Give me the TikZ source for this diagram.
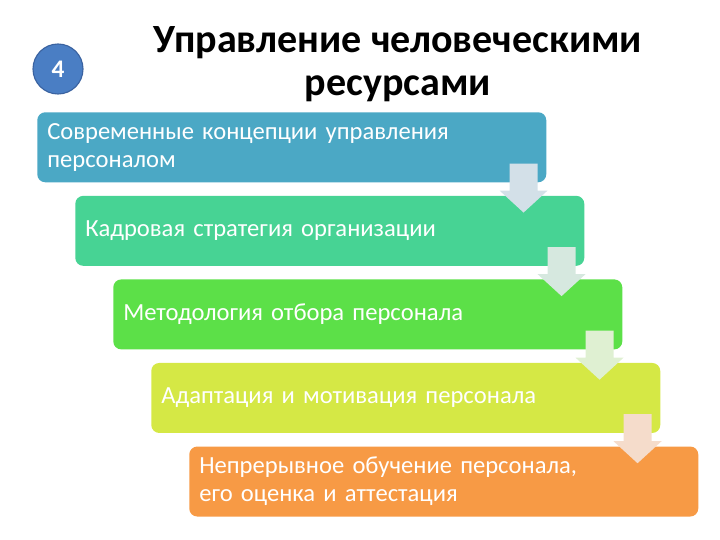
\documentclass[tikz,border=0pt]{standalone}
\usepackage{fontspec}
\setmainfont{Carlito}
\usetikzlibrary{positioning, calc}

\definecolor{stageA}{HTML}{4BA8C5}
\definecolor{stageB}{HTML}{47D394}
\definecolor{stageC}{HTML}{5CE048}
\definecolor{stageD}{HTML}{D5E845}
\definecolor{stageE}{HTML}{F79A45}
\definecolor{arrA}{HTML}{D3E0E8}
\definecolor{arrB}{HTML}{D6E8DF}
\definecolor{arrC}{HTML}{DFF0D2}
\definecolor{arrD}{HTML}{F5DCCB}
\definecolor{dotblue}{HTML}{4A7EC4}
\definecolor{dotrim}{HTML}{3A62A0}

\tikzset{
    stage/.style={rectangle, rounded corners=0.2cm, text=white, align=left,
        text width=12.225cm, inner xsep=0.25cm, minimum height=1.75cm,
        font=\fontsize{17.5}{20}\selectfont},
    numdot/.style={circle, draw=dotrim, line width=0.8pt, fill=dotblue, text=white,
        minimum size=1.25cm, font=\bfseries\fontsize{18}{20}\selectfont}
}

\begin{document}
\begin{tikzpicture}
    \useasboundingbox (0,0) rectangle (18,13.5);
    \node[numdot] (num) at (1.45,11.775) {4};
    \node[font=\bfseries\fontsize{28.5}{31}\selectfont, align=center] (title) at (9.95,11.9) {Управление человеческими\\ресурсами};
    \node[stage, fill=stageA, anchor=north west] (s1) at (0.925,10.7) {Современные концепции управления\\персоналом};
    \node[stage, fill=stageB, below right=0.325cm and 0.95cm of s1.south west] (s2) {Кадровая стратегия организации};
    \node[stage, fill=stageC, below right=0.325cm and 0.95cm of s2.south west] (s3) {Методология отбора персонала};
    \node[stage, fill=stageD, below right=0.325cm and 0.95cm of s3.south west] (s4) {Адаптация и мотивация персонала};
    \node[stage, fill=stageE, below right=0.325cm and 0.95cm of s4.south west] (s5) {Непрерывное обучение персонала,\\его оценка и аттестация};
    % block arrows between stages
    \foreach \a/\c in {s1/arrA, s2/arrB, s3/arrC, s4/arrD}
        \fill[\c] ($(\a.south east)+(-0.925,0.475)$) -- ++(0.7,0) -- ++(0,-0.675) -- ++(0.25,0)
            -- ++(-0.6,-0.55) -- ++(-0.6,0.55) -- ++(0.25,0) -- cycle;
\end{tikzpicture}
\end{document}
